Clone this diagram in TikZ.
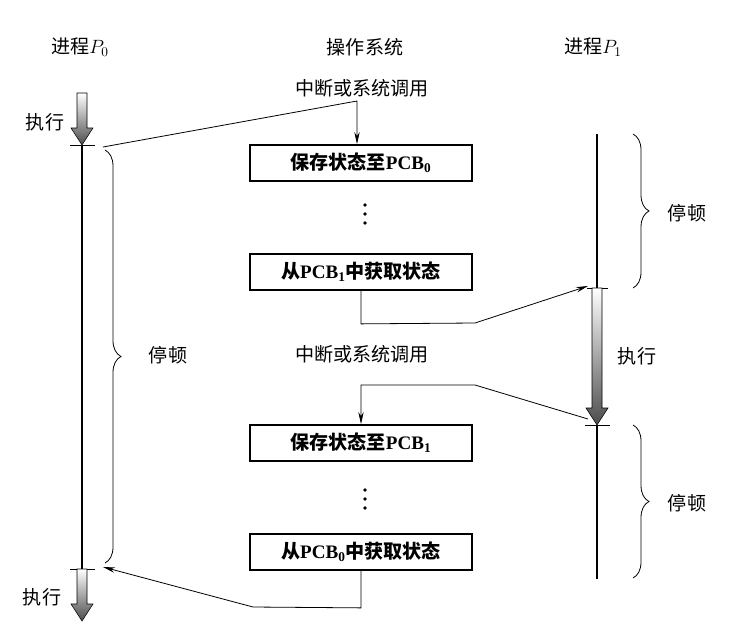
\documentclass[tikz,border=0pt]{standalone}
\usepackage{fontspec}
\setmainfont{Liberation Serif}
\newfontfamily\cjk{Noto Sans CJK SC}
\usetikzlibrary{arrows.meta,decorations.pathreplacing}
\newcommand{\txtsize}{\fontsize{14.3}{17}\selectfont}
\tikzset{
  flow/.style={line width=0.6pt,-{Stealth[length=9pt,width=4pt]}},
  timeline/.style={line width=2.2pt},
  statebox/.style={draw,line width=1.3pt,minimum width=166pt,minimum height=27pt,inner sep=0pt,font=\txtsize\cjk\bfseries},
  pause/.style={line width=0.6pt,decorate,decoration={brace,amplitude=12pt}},
  tag/.style={font=\txtsize\cjk},
}
\newcommand{\runarrow}[3]{%
  \shade[top color=white,bottom color=black!70,draw=black,thin]
    ({#1-5},#2) -- ({#1+5},#2) -- ({#1+5},{#3-17}) -- ({#1+11},{#3-17}) -- (#1,#3)
    -- ({#1-11},{#3-17}) -- ({#1-5},{#3-17}) -- cycle;}
\begin{document}
\begin{tikzpicture}[x=0.75pt,y=-0.75pt]
  \useasboundingbox (0,0) rectangle (741,635);
  \node[tag] (p0) at (80,47) {进程$P_0$};
  \node[tag] (os) at (365,47) {操作系统};
  \node[tag] (p1) at (593,47) {进程$P_1$};
  \runarrow{82}{93}{145}
  \draw (70,145) -- (95,145);
  \draw[timeline] (82,145) -- (82,569);
  \draw (70,569) -- (95,569);
  \runarrow{82}{569}{621}
  \node[tag] (run0a) at (45,122) {执行};
  \node[tag] (run0b) at (42,597) {执行};
  \draw[timeline] (597,134) -- (597,288);
  \draw (587,288) -- (608,288);
  \runarrow{597}{288}{425}
  \draw (585,425) -- (610,425);
  \draw[timeline] (597,425) -- (597,579);
  \node[tag] (run1) at (637,356) {执行};
  \draw[pause] (105,150) -- (105,563);
  \node[tag] (halt0) at (168,355) {停顿};
  \draw[pause] (633,134) -- (633,288);
  \node[tag] (halt1) at (687,213) {停顿};
  \draw[pause] (633,425) -- (633,578);
  \node[tag] (halt2) at (687,503) {停顿};
  \node[tag] (int0) at (362,88) {中断或系统调用};
  \node[tag] (int1) at (362,354) {中断或系统调用};
  \node[statebox] (save0) at (361,163) {保存状态至{\rmfamily PCB\textsubscript{0}}};
  \node[statebox] (load1) at (361,272) {从{\rmfamily PCB\textsubscript{1}}中获取状态};
  \node[statebox] (save1) at (361,443) {保存状态至{\rmfamily PCB\textsubscript{1}}};
  \node[statebox] (load0) at (361,552) {从{\rmfamily PCB\textsubscript{0}}中获取状态};
  \foreach \y in {205,214,223,490,499,508} {
    \fill (365,\y) circle (1.4pt);
  }
  \coordinate (p0stop) at (103,147);
  \coordinate (p0go) at (103,567);
  \coordinate (p1go) at (588,286);
  \coordinate (p1stop) at (588,419);
  \coordinate (bend0) at (357,101);
  \coordinate (bend1) at (475,385);
  \draw[flow] (p0stop) -- (bend0) -- (bend0 |- save0.north);
  \draw[flow] (load1.south) -- ++(0,33) -- (475,323) -- (p1go);
  \draw[flow] (p1stop) -- (bend1) -- (bend1 -| save1.north) -- (save1.north);
  \draw[flow] (load0.south) -- ++(0,37) -- (253,607) -- (p0go);
\end{tikzpicture}
\end{document}
